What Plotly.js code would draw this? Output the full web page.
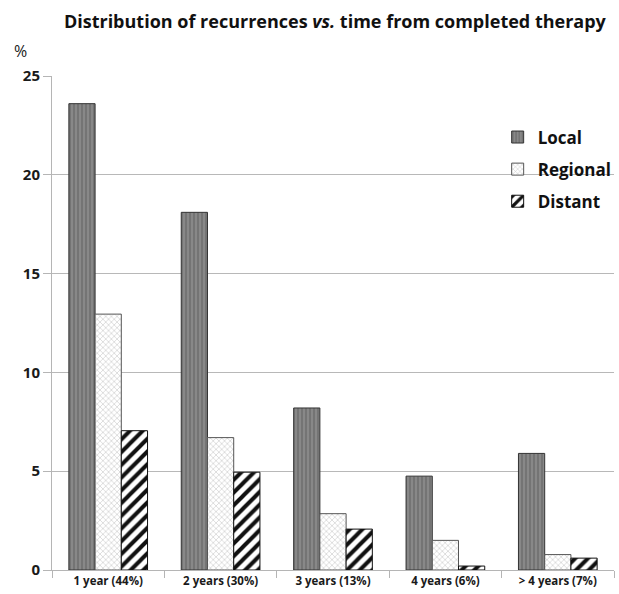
<!DOCTYPE html>
<html>
<head>
<meta charset="utf-8">
<script src="https://cdn.plot.ly/plotly-3.0.1.min.js"></script>
<style>html,body{margin:0;padding:0;background:#fff;}</style>
</head>
<body>
<div id="chart" style="width:619px;height:594px;"></div>
<script>
const categories = ["1 year (44%)", "2 years (30%)", "3 years (13%)", "4 years (6%)", "> 4 years (7%)"];
const localVals = [23.6, 18.1, 8.2, 4.75, 5.9];
const regionalVals = [12.95, 6.7, 2.85, 1.5, 0.78];
const distantVals = [7.05, 4.95, 2.07, 0.2, 0.6];
const seriesNames = ["Local", "Regional", "Distant"];
const yTicks = [0, 5, 10, 15, 20, 25];

const FONT = "'Open Sans', 'Liberation Sans', sans-serif";

const traces = [
  {
    type: "bar", name: seriesNames[0], x: categories, y: localVals, legendgroup: "a",
    marker: {
      color: "#808080",
      line: {color: "#333333", width: 1},
      pattern: {shape: "|", fgcolor: "#666666", bgcolor: "#888888", size: 4, solidity: 0.3}
    }
  },
  {
    type: "bar", name: seriesNames[1], x: categories, y: regionalVals, legendgroup: "b",
    marker: {
      color: "#ffffff",
      line: {color: "#555555", width: 1},
      pattern: {shape: "x", fgcolor: "#b0b0b0", bgcolor: "#ffffff", size: 4, solidity: 0.2}
    }
  },
  {
    type: "bar", name: seriesNames[2], x: categories, y: distantVals, legendgroup: "c",
    marker: {
      color: "#ffffff",
      line: {color: "#111111", width: 1},
      pattern: {shape: "/", fgcolor: "#111111", bgcolor: "#ffffff", size: 9, solidity: 0.45}
    }
  }
];

const layout = {
  width: 619, height: 594,
  margin: {l: 52, r: 5, t: 76, b: 24, autoexpand: false},
  paper_bgcolor: "#ffffff", plot_bgcolor: "#ffffff",
  font: {family: FONT, color: "#1a1a1a"},
  barmode: "group", bargap: 0.3, bargroupgap: 0,
  title: {
    text: "<b>Distribution of recurrences <i>vs.</i> time from completed therapy</b>",
    font: {family: FONT, size: 18, color: "#111"},
    x: 0.541, xref: "container", xanchor: "center",
    y: 0.963, yref: "container", yanchor: "middle"
  },
  xaxis: {
    type: "category",
    showline: true, linecolor: "#b5b5b5", linewidth: 1,
    ticks: "outside", tickson: "boundaries", ticklen: 7, tickcolor: "#b5b5b5",
    tickfont: {family: FONT, size: 11.5, color: "#1a1a1a", weight: "bold"},
    showgrid: false, zeroline: false
  },
  yaxis: {
    range: [0, 25], tickvals: yTicks, ticktext: yTicks.map(String),
    showline: true, linecolor: "#b5b5b5", linewidth: 1,
    ticks: "outside", ticklen: 8, tickcolor: "#b5b5b5",
    showgrid: true, gridcolor: "#b8b8b8", gridwidth: 1,
    zeroline: false,
    tickfont: {family: FONT, size: 15, color: "#1a1a1a", weight: "bold"}
  },
  legend: {
    x: 0.793, y: 0.912, xanchor: "left", yanchor: "top",
    font: {family: FONT, size: 17, color: "#111", weight: "bold"},
    bgcolor: "rgba(0,0,0,0)", itemwidth: 30, tracegroupgap: 7
  },
  annotations: [{
    text: "%", xref: "paper", yref: "paper", x: -0.072, y: 1.05,
    xanchor: "left", yanchor: "middle", showarrow: false,
    font: {family: FONT, size: 16, color: "#1a1a1a"}
  }],
  showlegend: true
};

Plotly.newPlot("chart", traces, layout, {displayModeBar: false, staticPlot: true});
</script>
</body>
</html>
